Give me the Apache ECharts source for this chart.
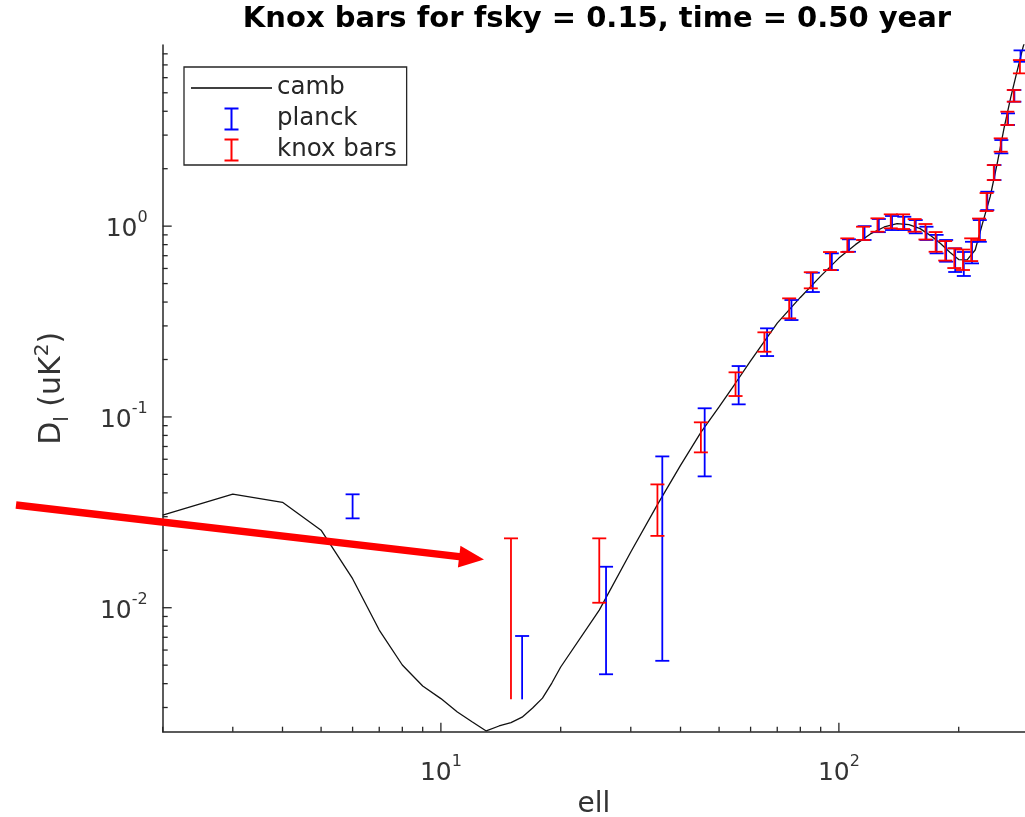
<!DOCTYPE html>
<html>
<head>
<meta charset="utf-8">
<title>Knox bars</title>
<script src="https://cdn.jsdelivr.net/npm/echarts@6/dist/echarts.min.js"></script>
<style>
  html, body { margin: 0; padding: 0; background: #ffffff; }
  #chart { width: 1025px; height: 817px; }
</style>
</head>
<body>
<div id="chart"></div>
<script>
// CAMB theory spectrum D_l (uK^2) at selected multipoles
const cambEll = [2, 3, 4, 5, 6, 7, 8, 9, 10, 11, 12, 13, 14, 15, 16, 17, 18, 19, 20,
  25, 30, 35, 40, 45, 50, 55, 60, 70, 80, 90, 100, 110, 120, 130, 140, 150, 160, 170,
  180, 190, 200, 210, 220, 230, 240, 250, 260, 270, 280, 290, 300];
const cambDl = [0.0306, 0.0394, 0.0357, 0.0255, 0.0142, 0.00764, 0.00501, 0.00389, 0.00334,
  0.00284, 0.00252, 0.00226, 0.0024, 0.0025, 0.00267, 0.00298, 0.00336, 0.00403, 0.00489,
  0.00972, 0.0196, 0.0347, 0.0557, 0.083, 0.1128, 0.1506, 0.1966, 0.31, 0.423, 0.547, 0.68,
  0.80, 0.91, 0.99, 1.032, 1.018, 0.97, 0.892, 0.81, 0.73, 0.668, 0.665, 0.75, 1.05, 1.43,
  2.14, 3.26, 4.69, 6.41, 8.62, 11.0];

// Planck binned band powers: lower / upper ends of each error bar
const planckEll = [6, 16, 26, 36, 46, 56, 66, 76, 86, 96, 106, 116, 126, 136, 146, 156,
  166, 176, 186, 196, 206, 216, 226, 236, 246, 256, 266, 276, 286];
const planckLow = [0.0294, 0.00331, 0.00448, 0.00527, 0.0488, 0.1164, 0.2085, 0.322, 0.4515,
  0.5886, 0.734, 0.846, 0.93, 0.954, 0.954, 0.917, 0.846, 0.72, 0.651, 0.575, 0.548, 0.638,
  0.828, 1.214, 1.744, 2.407, 3.39, 4.49, 7.27];
const planckHigh = [0.0393, 0.00711, 0.0164, 0.0621, 0.111, 0.1848, 0.2913, 0.41, 0.570,
  0.720, 0.853, 1.0, 1.09, 1.13, 1.12, 1.076, 0.993, 0.90, 0.846, 0.765, 0.732, 0.828,
  1.076, 1.515, 2.09, 2.827, 3.90, 5.17, 8.34];

// Knox-formula error bars for fsky = 0.15, half a year of observation
const knoxEll = [15, 25, 35, 45, 55, 65, 75, 85, 95, 105, 115, 125, 135, 145, 155, 165,
  175, 185, 195, 205, 215, 225, 235, 245, 255, 265, 275, 285];
const knoxLow = [0.00331, 0.01062, 0.0238, 0.0652, 0.1287, 0.2196, 0.3287, 0.472, 0.5886,
  0.732, 0.846, 0.935, 0.974, 0.966, 0.935, 0.851, 0.734, 0.660, 0.603, 0.589, 0.656,
  0.846, 1.200, 1.744, 2.455, 3.39, 4.49, 6.32];
const knoxHigh = [0.0231, 0.0231, 0.0443, 0.0937, 0.1713, 0.2776, 0.4183, 0.5733, 0.7316,
  0.863, 0.993, 1.099, 1.153, 1.153, 1.089, 1.026, 0.931, 0.835, 0.765, 0.754, 0.863,
  1.096, 1.491, 2.090, 2.885, 3.98, 5.17, 7.42];

// bars whose lower end runs below zero: drawn without a bottom cap
const openLowEll = [15, 16];

// axis tick positions (decades get long ticks and labels)
const xTicks = [2, 3, 4, 5, 6, 7, 8, 9, 10, 20, 30, 40, 50, 60, 70, 80, 90, 100, 200];
const yTicks = [0.003, 0.004, 0.005, 0.006, 0.007, 0.008, 0.009,
  0.01, 0.02, 0.03, 0.04, 0.05, 0.06, 0.07, 0.08, 0.09,
  0.1, 0.2, 0.3, 0.4, 0.5, 0.6, 0.7, 0.8, 0.9,
  1, 2, 3, 4, 5, 6, 7, 8];

const X_MIN = 2, X_MAX = 293.5;
const Y_MIN = 0.00224, Y_MAX = 8.9;

const FONT = 'DejaVu Sans';
const AXIS_COLOR = '#262626';
const TEXT_COLOR = '#333333';
const BLUE = '#0000ff';
const RED = '#ff0000';

function isDecade(v) {
  const e = Math.log10(v);
  return Math.abs(e - Math.round(e)) < 1e-9;
}

function powerLabel(v) {
  if (!isDecade(v)) return '';
  const e = Math.round(Math.log10(v));
  return '{b|10}{s|' + (e < 0 ? '-' + (-e) : e) + '}';
}

const labelRich = {
  b: { fontSize: 25, fontFamily: FONT, color: TEXT_COLOR, lineHeight: 32, verticalAlign: 'bottom' },
  s: { fontSize: 16, fontFamily: FONT, color: TEXT_COLOR, lineHeight: 32, verticalAlign: 'top' }
};

function errorBarRenderer(color) {
  return function (params, api) {
    const ell = api.value(0);
    const top = api.coord([ell, api.value(2)]);
    const bot = api.coord([ell, api.value(1)]);
    const half = 7;
    const style = { stroke: color, lineWidth: 1.8 };
    const children = [
      { type: 'line', shape: { x1: top[0], y1: top[1], x2: bot[0], y2: bot[1] }, style: style },
      { type: 'line', shape: { x1: top[0] - half, y1: top[1], x2: top[0] + half, y2: top[1] }, style: style }
    ];
    if (openLowEll.indexOf(ell) < 0) {
      children.push({ type: 'line', shape: { x1: bot[0] - half, y1: bot[1], x2: bot[0] + half, y2: bot[1] }, style: style });
    }
    return { type: 'group', children: children };
  };
}

// inward tick marks on both axes, placed through the axis scales
function tickRenderer(params, api) {
  const style = { stroke: AXIS_COLOR, lineWidth: 1.3 };
  const children = [];
  xTicks.forEach(function (v) {
    const p = api.coord([v, Y_MIN]);
    const len = isDecade(v) ? 9 : 5;
    children.push({ type: 'line', shape: { x1: p[0], y1: p[1], x2: p[0], y2: p[1] - len }, style: style });
  });
  yTicks.forEach(function (v) {
    const p = api.coord([X_MIN, v]);
    const len = isDecade(v) ? 9 : 5;
    children.push({ type: 'line', shape: { x1: p[0], y1: p[1], x2: p[0] + len, y2: p[1] }, style: style });
  });
  return { type: 'group', children: children };
}

// red annotation arrow, built from its start point and tip
function arrowPolygon(sx, sy, tx, ty, shaftHalf, headLen, headHalf) {
  const dx = tx - sx, dy = ty - sy, L = Math.hypot(dx, dy);
  const ux = dx / L, uy = dy / L, nx = -uy, ny = ux;
  const bx = tx - headLen * ux, by = ty - headLen * uy;
  return [
    [sx + shaftHalf * nx, sy + shaftHalf * ny],
    [bx + shaftHalf * nx, by + shaftHalf * ny],
    [bx + headHalf * nx, by + headHalf * ny],
    [tx, ty],
    [bx - headHalf * nx, by - headHalf * ny],
    [bx - shaftHalf * nx, by - shaftHalf * ny],
    [sx - shaftHalf * nx, sy - shaftHalf * ny]
  ];
}

const ibeamIcon = 'path://M0,0H14V2H8V21H14V23H0V21H6V2H0Z';
const lineIcon = 'path://M0,0H80V1.6H0Z';

const chart = echarts.init(document.getElementById('chart'), null, { renderer: 'canvas' });

chart.setOption({
  animation: false,
  backgroundColor: '#ffffff',
  title: {
    text: 'Knox bars for fsky = 0.15, time = 0.50 year',
    left: 597,
    top: 5,
    textAlign: 'center',
    padding: 0,
    textStyle: { fontFamily: FONT, fontSize: 29, fontWeight: 'bold', color: '#000000' }
  },
  legend: {
    orient: 'vertical',
    left: 184,
    top: 67,
    padding: [8, 10, 2, 7],
    itemWidth: 81,
    itemHeight: 23,
    itemGap: 5,
    borderColor: AXIS_COLOR,
    borderWidth: 1.3,
    backgroundColor: '#ffffff',
    textStyle: { fontFamily: FONT, fontSize: 24.5, color: AXIS_COLOR, lineHeight: 26 },
    itemStyle: { borderWidth: 0 },
    data: [
      { name: 'camb', icon: lineIcon },
      { name: 'planck', icon: ibeamIcon },
      { name: 'knox bars', icon: ibeamIcon }
    ]
  },
  grid: {
    left: 162.7,
    right: 0,
    top: 45,
    bottom: 85.3,
    containLabel: false,
    outerBoundsMode: 'none'
  },
  xAxis: {
    type: 'log',
    logBase: 10,
    min: X_MIN,
    max: X_MAX,
    axisLine: { show: true, onZero: false, lineStyle: { color: AXIS_COLOR, width: 1.5 } },
    axisTick: { show: false },
    splitLine: { show: false },
    axisLabel: { formatter: powerLabel, margin: 22, rich: labelRich, showMinLabel: false, showMaxLabel: false },
    name: 'ell',
    nameLocation: 'middle',
    nameGap: 58,
    nameTextStyle: { fontFamily: FONT, fontSize: 28, color: TEXT_COLOR }
  },
  yAxis: {
    type: 'log',
    logBase: 10,
    min: Y_MIN,
    max: Y_MAX,
    axisLine: { show: true, onZero: false, lineStyle: { color: AXIS_COLOR, width: 1.5 } },
    axisTick: { show: false },
    splitLine: { show: false },
    axisLabel: { formatter: powerLabel, margin: 15, rich: labelRich, showMinLabel: false, showMaxLabel: false },
    name: '{b|D}{u|l}{b| (uK}{p|2}{b|)}',
    nameLocation: 'middle',
    nameGap: 90,
    nameTextStyle: {
      rich: {
        b: { fontFamily: FONT, fontSize: 30, color: TEXT_COLOR, lineHeight: 40, verticalAlign: 'middle' },
        u: { fontFamily: FONT, fontSize: 20, color: TEXT_COLOR, lineHeight: 40, verticalAlign: 'bottom' },
        p: { fontFamily: FONT, fontSize: 20, color: TEXT_COLOR, lineHeight: 40, verticalAlign: 'top' }
      }
    }
  },
  series: [
    {
      name: 'camb',
      type: 'line',
      data: cambEll.map((e, i) => [e, cambDl[i]]),
      showSymbol: false,
      symbol: 'none',
      color: '#000000',
      lineStyle: { color: '#111111', width: 1.3 },
      z: 2
    },
    {
      name: 'planck',
      type: 'custom',
      renderItem: errorBarRenderer(BLUE),
      data: planckEll.map((e, i) => [e, planckLow[i], planckHigh[i]]),
      encode: { x: 0, y: [1, 2] },
      itemStyle: { color: BLUE },
      z: 3
    },
    {
      name: 'knox bars',
      type: 'custom',
      renderItem: errorBarRenderer(RED),
      data: knoxEll.map((e, i) => [e, knoxLow[i], knoxHigh[i]]),
      encode: { x: 0, y: [1, 2] },
      itemStyle: { color: RED },
      z: 4
    },
    {
      name: 'axis ticks',
      type: 'custom',
      renderItem: tickRenderer,
      data: [[10, 0.1]],
      encode: { x: 0, y: 1 },
      silent: true,
      clip: false,
      z: 5
    }
  ],
  graphic: [
    {
      type: 'polygon',
      shape: { points: arrowPolygon(16, 505, 484, 559.5, 3.7, 25, 11) },
      style: { fill: RED },
      z: 100
    }
  ]
});
</script>
</body>
</html>
